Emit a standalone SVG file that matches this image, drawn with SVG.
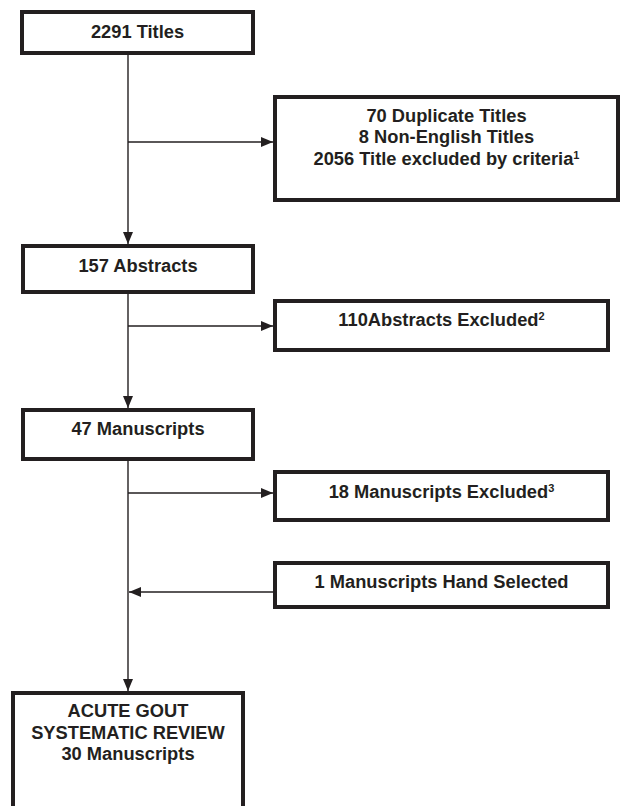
<svg xmlns="http://www.w3.org/2000/svg" width="621" height="806" viewBox="0 0 621 806">
<defs>
<style>
.box{fill:#fff;stroke:#231f20;stroke-width:4}
.t{font-family:"Liberation Sans",Arial,sans-serif;font-weight:bold;font-size:18.3px;fill:#231f20;text-anchor:middle}
.sup{font-size:11px}
.c{stroke:#231f20;stroke-width:1.4;fill:none}
</style>
<marker id="ah" markerUnits="userSpaceOnUse" markerWidth="13" markerHeight="11" refX="12" refY="5" orient="auto">
<path d="M0,0 L12,5 L0,10 z" fill="#231f20"/>
</marker>
</defs>
<g id="connectors">
<line class="c" x1="128" y1="55" x2="128" y2="244" marker-end="url(#ah)"/>
<line class="c" x1="128" y1="142" x2="273" y2="142" marker-end="url(#ah)"/>
<line class="c" x1="128" y1="294" x2="128" y2="408" marker-end="url(#ah)"/>
<line class="c" x1="128" y1="326" x2="273" y2="326" marker-end="url(#ah)"/>
<line class="c" x1="128" y1="461" x2="128" y2="691" marker-end="url(#ah)"/>
<line class="c" x1="128" y1="493" x2="273" y2="493" marker-end="url(#ah)"/>
<line class="c" x1="273" y1="592" x2="129" y2="592" marker-end="url(#ah)"/>
</g>
<g id="titles">
<rect class="box" x="22" y="12" width="231" height="41"/>
<text class="t" x="137.5" y="38">2291 Titles</text>
</g>
<g id="title-excluded">
<rect class="box" x="275" y="97" width="343" height="103"/>
<text class="t" x="446.5" y="122">70 Duplicate Titles</text>
<text class="t" x="446.5" y="143">8 Non-English Titles</text>
<text class="t" x="446.5" y="165">2056 Title excluded by criteria<tspan class="sup" dy="-6">1</tspan></text>
</g>
<g id="abstracts">
<rect class="box" x="23" y="246" width="230" height="46"/>
<text class="t" x="138" y="272">157 Abstracts</text>
</g>
<g id="abstracts-excluded">
<rect class="box" x="275" y="301" width="333" height="49"/>
<text class="t" x="441.5" y="326">110Abstracts Excluded<tspan class="sup" dy="-6">2</tspan></text>
</g>
<g id="manuscripts">
<rect class="box" x="23" y="410" width="230" height="49"/>
<text class="t" x="138" y="435">47 Manuscripts</text>
</g>
<g id="manuscripts-excluded">
<rect class="box" x="275" y="472" width="333" height="48"/>
<text class="t" x="441.5" y="498">18 Manuscripts Excluded<tspan class="sup" dy="-6">3</tspan></text>
</g>
<g id="hand-selected">
<rect class="box" x="275" y="563" width="333" height="44"/>
<text class="t" x="441.5" y="588">1 Manuscripts Hand Selected</text>
</g>
<g id="review">
<rect class="box" x="13" y="693" width="230" height="130"/>
<text class="t" x="128" y="717">ACUTE GOUT</text>
<text class="t" x="128" y="739">SYSTEMATIC REVIEW</text>
<text class="t" x="128" y="760">30 Manuscripts</text>
</g>
</svg>
